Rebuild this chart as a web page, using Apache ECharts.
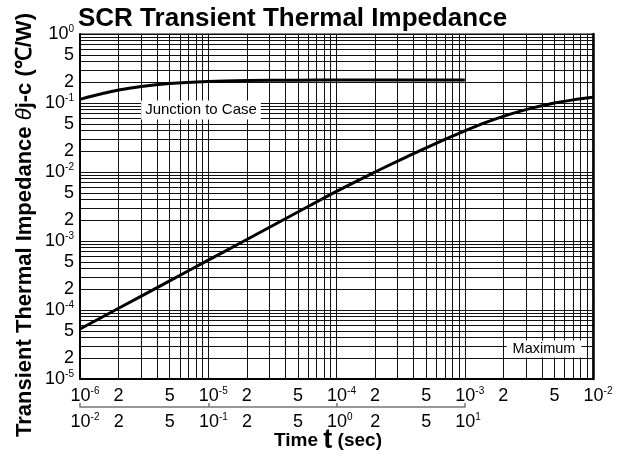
<!DOCTYPE html>
<html><head><meta charset="utf-8">
<script src="https://cdn.jsdelivr.net/npm/echarts@6/dist/echarts.min.js"></script>
<style>html,body{margin:0;padding:0;background:#fff}#c{width:618px;height:454px}</style>
</head><body><div id="c"></div>
<script>
// ---- data ----
const topTimeLabels = [1e-6,2e-6,5e-6,1e-5,2e-5,5e-5,1e-4,2e-4,5e-4,1e-3,2e-3,5e-3,1e-2];
const bottomTimeLabels = [1e-2,2e-2,5e-2,1e-1,2e-1,5e-1,1,2,5,10];
const bottomDecadeTicks = [1e-2,1e-1,1,10];
const impedanceLabels = [1e-5,2e-5,5e-5,1e-4,2e-4,5e-4,1e-3,2e-3,5e-3,1e-2,2e-2,5e-2,1e-1,2e-1,5e-1,1];

const jcTime = [1e-6,1.5e-6,2e-6,3e-6,5e-6,1e-5,2e-5,5e-5,1e-4,1e-3];
const jcZ    = [0.113,0.137,0.154,0.174,0.192,0.205,0.211,0.214,0.215,0.215];

const maxTime = [1e-6,2e-6,5e-6,1e-5,2e-5,5e-5,1e-4,2e-4,3e-4,5e-4,7e-4,1e-3,1.5e-3,2e-3,3e-3,5e-3,7e-3,1e-2];
const maxZ    = [5.3e-5,1.06e-4,2.64e-4,5.27e-4,1.05e-3,2.63e-3,5.24e-3,0.0100,0.0144,0.0224,0.0297,0.0395,0.0533,0.0641,0.0802,0.100,0.111,0.121];

// ---- helpers ----
const FONT = '"Liberation Sans", Arial, sans-serif';
function gridValues(lo, hi){
  const out=[];
  for(let e=lo;e<hi;e++) for(let m=1;m<=9;m++) out.push(Number((m*Math.pow(10,e)).toPrecision(2)));
  out.push(Number(Math.pow(10,hi).toPrecision(2)));
  return out;
}
function split(v){
  const e=Math.floor(Math.log10(v*1.0001));
  const m=Math.round(v/Math.pow(10,e));
  return [m,e];
}
function fmtX(v){
  const [m,e]=split(v);
  if(m===1) return '{pad'+(e<0?'2':'1')+'| }{b|10}{s|'+e+'}';
  return '{b|'+m+'}';
}
function fmtY(v){
  const [m,e]=split(v);
  if(m===1) return '{b|10}{s|'+e+'}';
  return '{b|'+m+'}';
}
const rich = {
  b:{fontSize:18,fontFamily:FONT,color:'#000',lineHeight:20},
  s:{fontSize:10,fontFamily:FONT,color:'#000',lineHeight:11,verticalAlign:'top'},
  pad1:{width:6,fontSize:10},
  pad2:{width:10,fontSize:10}
};
const gridLine = {show:true,lineStyle:{color:'#111',width:1}};

const chart = echarts.init(document.getElementById('c'));
chart.setOption({
  animation:false,
  backgroundColor:'#fff',
  title:{text:'SCR Transient Thermal Impedance',left:78,top:6,padding:0,
    textStyle:{fontSize:26,fontWeight:'bold',fontFamily:FONT,color:'#000'}},
  grid:[
    {left:80,right:25,top:34,bottom:75,show:true,borderColor:'#000',borderWidth:1,outerBoundsMode:'none'},
    {left:80,width:385,top:405,height:2,outerBoundsMode:'none'}
  ],
  xAxis:[
    {type:'log',gridIndex:0,min:1e-6,max:1e-2,
      axisLine:{show:true,lineStyle:{color:'#000',width:2}},
      axisTick:{show:false,customValues:gridValues(-6,-2)},
      splitLine:gridLine,
      axisLabel:{customValues:topTimeLabels,formatter:fmtX,rich:rich,margin:7}},
    {type:'log',gridIndex:1,min:1e-2,max:10,position:'bottom',
      axisLine:{show:true,lineStyle:{color:'#777',width:1.5}},
      axisTick:{show:true,inside:true,length:4,customValues:bottomDecadeTicks,lineStyle:{color:'#777',width:1.5}},
      splitLine:{show:false},
      axisLabel:{customValues:bottomTimeLabels,formatter:fmtX,rich:rich,margin:5}}
  ],
  yAxis:[
    {type:'log',gridIndex:0,min:1e-5,max:1,
      axisLine:{show:true,lineStyle:{color:'#000',width:2}},
      axisTick:{show:false,customValues:gridValues(-5,0)},
      splitLine:gridLine,
      axisLabel:{customValues:impedanceLabels,formatter:fmtY,rich:rich,margin:6,showMaxLabel:true}},
    {type:'log',gridIndex:0,min:1e-5,max:1,position:'right',
      axisLine:{show:true,lineStyle:{color:'#000',width:2.5}},
      axisTick:{show:false},axisLabel:{show:false},splitLine:{show:false}},
    {type:'value',gridIndex:1,show:false}
  ],
  series:[
    {name:'Junction to Case',type:'line',xAxisIndex:0,yAxisIndex:0,
      data:jcTime.map((t,i)=>[t,jcZ[i]]),showSymbol:false,smooth:0.3,
      lineStyle:{color:'#000',width:3},silent:true},
    {name:'Maximum',type:'line',xAxisIndex:0,yAxisIndex:0,
      data:maxTime.map((t,i)=>[t,maxZ[i]]),showSymbol:false,smooth:0.3,
      lineStyle:{color:'#000',width:3},silent:true}
  ],
  graphic:[
    {type:'text',x:25,y:225,rotation:Math.PI/2,z:10,
      style:{text:'{a|Transient Thermal Impedance }{t|θ}{a|j-c (℃/W)}',
        align:'center',verticalAlign:'middle',
        rich:{a:{fontSize:22,fontWeight:'bold',fontFamily:FONT,fill:'#000'},
              t:{fontSize:22,fontStyle:'italic',fontFamily:FONT,fill:'#000'}}}},
    {type:'text',x:328,y:441,z:10,
      style:{text:'{a|Time }{t|t}{a| (sec)}',align:'center',verticalAlign:'middle',
        rich:{a:{fontSize:19,fontWeight:'bold',fontFamily:FONT,fill:'#000'},
              t:{fontSize:27,fontWeight:'bold',fontFamily:FONT,fill:'#000'}}}},
    {type:'text',x:201,y:110,z:10,
      style:{text:'Junction to Case',fontSize:15,fontFamily:FONT,fill:'#000',
        align:'center',verticalAlign:'middle',backgroundColor:'#fff',padding:[2,4,2,4]}},
    {type:'text',x:544,y:349,z:10,
      style:{text:'Maximum',fontSize:14.5,fontFamily:FONT,fill:'#000',
        align:'center',verticalAlign:'middle',backgroundColor:'#fff',padding:[1,6,1,6]}}
  ]
});
</script></body></html>
